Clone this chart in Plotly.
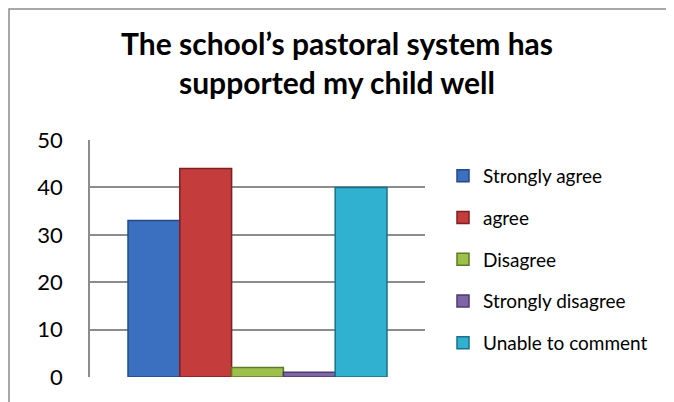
import plotly.graph_objects as go

categories = ["Strongly agree", "agree", "Disagree", "Strongly disagree", "Unable to comment"]
values = [33, 44, 2, 1, 40]
colors = ["#3b6fc0", "#c43c3c", "#9cc04a", "#8064a8", "#2fb1cf"]
edge_colors = ["#234a86", "#7e1f20", "#5f7a25", "#4d3a6e", "#1a7088"]
y_ticks = [0, 10, 20, 30, 40, 50]

# page body has an 8px margin, so figure coordinates are screen coordinates minus 8
W, H = 674, 402
L, R, T, B = 82, 257, 132, 33

fig = go.Figure()
for i, (name, v) in enumerate(zip(categories, values)):
    fig.add_trace(go.Bar(
        x=[""], y=[v], name=name, legendgroup=name,
        marker=dict(color=colors[i], line=dict(color=edge_colors[i], width=1.5)),
    ))

pw = W - L - R
ph = H - T - B
fig.add_shape(type="rect", xref="paper", yref="paper",
              x0=(1 - L) / pw, x1=(W + 20 - L) / pw,
              y0=-(B + 20) / ph, y1=(H - 1 - B) / ph,
              line=dict(color="#8c8c8c", width=1.5), fillcolor="rgba(0,0,0,0)", layer="below")

fig.update_layout(
    width=W, height=H,
    margin=dict(l=L, r=R, t=T, b=B),
    paper_bgcolor="white", plot_bgcolor="white",
    font=dict(family="Lato", color="#000000"),
    title=dict(text="<b>The school’s pastoral system has<br>supported my child well</b>",
               x=(329) / W, xanchor="center", xref="container",
               y=1 - 47 / H, yanchor="top", yref="container",
               font=dict(size=30, family="Lato", color="#000000")),
    barmode="group", bargap=0.227, bargroupgap=0,
    showlegend=True,
    legend=dict(x=(435 - L) / pw, xanchor="left", y=1 - 17 / ph, yanchor="top",
                font=dict(size=19, family="Lato"), tracegroupgap=14,
                itemwidth=30, bgcolor="rgba(0,0,0,0)"),
    xaxis=dict(showticklabels=False, showgrid=False, showline=False, zeroline=False),
    yaxis=dict(range=[0, 50], tickvals=y_ticks, showgrid=True, gridcolor="#8c8c8c", gridwidth=1.5,
               showline=True, linecolor="#8c8c8c", linewidth=1.5, zeroline=False,
               tickfont=dict(size=22, family="Lato"), ticks="", ticklabelstandoff=21),
)

fig.write_html("out.html")
